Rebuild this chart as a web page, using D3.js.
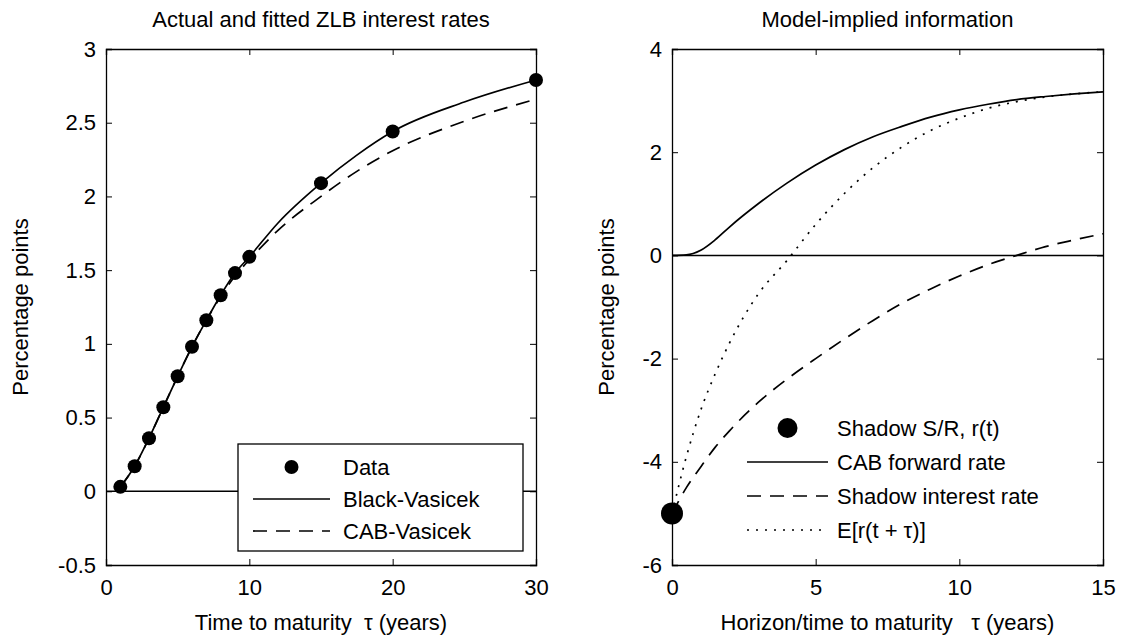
<!DOCTYPE html>
<html><head><meta charset="utf-8">
<script src="https://cdn.jsdelivr.net/npm/d3@7"></script>
<style>
body{margin:0;background:#fff;font-family:"Liberation Sans",Arial,sans-serif;}
text{font-family:"Liberation Sans",Arial,sans-serif;fill:#000;}
</style></head><body>
<div id="chart"></div>
<script>
// left panel
const dataTau = [1,2,3,4,5,6,7,8,9,10,15,20,30];
const dataRate = [0.03,0.17,0.36,0.57,0.78,0.98,1.16,1.33,1.48,1.59,2.09,2.44,2.79];
const blackTau = [1,2,3,4,5,6,7,8,9,10,12,15,17.5,20,25,30];
const blackRate = [0.03,0.17,0.36,0.57,0.78,0.98,1.16,1.33,1.48,1.59,1.82,2.09,2.28,2.44,2.64,2.79];
const cabTau = [1,2,3,4,5,6,7,8,9,10,12,15,17.5,20,25,30];
const cabRate = [0.03,0.17,0.36,0.57,0.78,0.98,1.16,1.32,1.46,1.57,1.77,2.0,2.17,2.31,2.51,2.66];
// right panel
const horizon = [0,0.5,1,1.5,2,3,4,5,6,7,8,9,10,11,12,13,14,15];
const cabFwd = [0,0.01,0.1,0.3,0.55,1.0,1.4,1.75,2.05,2.3,2.5,2.68,2.82,2.93,3.02,3.08,3.13,3.17];
const shadowRate = [-5,-4.5,-4.1,-3.72,-3.4,-2.85,-2.4,-2.0,-1.62,-1.26,-0.93,-0.65,-0.4,-0.18,0.0,0.17,0.3,0.42];
const expRate = [-5,-3.9,-3.0,-2.3,-1.7,-0.75,-0.1,0.6,1.2,1.7,2.1,2.42,2.66,2.85,2.98,3.07,3.13,3.17];
const leftYTicks = [-0.5,0,0.5,1,1.5,2,2.5,3];
const leftXTicks = [0,10,20,30];
const rightYTicks = [-6,-4,-2,0,2,4];
const rightXTicks = [0,5,10,15];

const W = 1122, H = 635;
const svg = d3.select("#chart").append("svg").attr("width", W).attr("height", H);
const plotTop = 49, plotBottom = 565;
const FS = 22;

function panel(x0, x1, xDom, yDom, xTicks, yTicks, title, xlabel, ylabelX) {
  const x = d3.scaleLinear().domain(xDom).range([x0, x1]);
  const y = d3.scaleLinear().domain(yDom).range([plotBottom, plotTop]);
  const g = svg.append("g");
  const fmt = d => String(d);
  g.append("g").attr("transform", `translate(0,${plotBottom})`)
    .call(d3.axisBottom(x).tickValues(xTicks).tickSize(-6).tickPadding(14).tickFormat(fmt));
  g.append("g").attr("transform", `translate(0,${plotTop})`)
    .call(d3.axisTop(x).tickValues(xTicks).tickSize(-6).tickFormat(""));
  g.append("g").attr("transform", `translate(${x0},0)`)
    .call(d3.axisLeft(y).tickValues(yTicks).tickSize(-6).tickPadding(10).tickFormat(fmt));
  g.append("g").attr("transform", `translate(${x1},0)`)
    .call(d3.axisRight(y).tickValues(yTicks).tickSize(-6).tickFormat(""));
  g.selectAll(".domain").attr("stroke", "#000").attr("stroke-width", 1.3);
  g.selectAll(".tick line").attr("stroke", "#000");
  g.selectAll(".tick text").attr("font-size", FS).attr("fill", "#000")
    .attr("font-family", "Liberation Sans, Arial, sans-serif");
  g.append("text").attr("x", (x0 + x1) / 2).attr("y", 27).attr("text-anchor", "middle")
    .attr("font-size", FS).text(title);
  g.append("text").attr("x", (x0 + x1) / 2).attr("y", 630).attr("text-anchor", "middle")
    .attr("font-size", FS).html(xlabel);
  g.append("text").attr("transform", `translate(${ylabelX},${(plotTop + plotBottom) / 2}) rotate(-90)`)
    .attr("text-anchor", "middle").attr("font-size", FS).text("Percentage points");
  // zero line
  g.append("line").attr("x1", x0).attr("x2", x1).attr("y1", y(0)).attr("y2", y(0))
    .attr("stroke", "#000").attr("stroke-width", 1.5);
  return {x, y, g};
}

const L = panel(106, 536, [0, 30], [-0.5, 3], leftXTicks, leftYTicks,
  "Actual and fitted ZLB interest rates", "Time to maturity &#160;τ (years)", 28);
const R = panel(672, 1103, [0, 15], [-6, 4], rightXTicks, rightYTicks,
  "Model-implied information", "Horizon/time to maturity &#160;&#160;τ (years)", 614);

function curve(P, xs, ys, dash) {
  const line = d3.line().x((d, i) => P.x(xs[i])).y(d => P.y(d)).curve(d3.curveMonotoneX);
  P.g.append("path").attr("d", line(ys)).attr("fill", "none").attr("stroke", "#000")
    .attr("stroke-width", 1.7).attr("stroke-dasharray", dash);
}
curve(L, cabTau, cabRate, "14,9");
curve(L, blackTau, blackRate, null);
L.g.selectAll("circle.pt").data(dataRate).enter().append("circle")
  .attr("cx", (d, i) => L.x(dataTau[i])).attr("cy", d => L.y(d)).attr("r", 7).attr("fill", "#000");

curve(R, horizon, expRate, "2,7");
curve(R, horizon, shadowRate, "14,9");
curve(R, horizon, cabFwd, null);
R.g.append("circle").attr("cx", R.x(0)).attr("cy", R.y(-5)).attr("r", 11).attr("fill", "#000");

// legends
function legend(P, box, x0, x1, tx, ys, items, r) {
  if (box) P.g.append("rect").attr("x", box[0]).attr("y", box[1]).attr("width", box[2]).attr("height", box[3])
    .attr("fill", "#fff").attr("stroke", "#000").attr("stroke-width", 1.3);
  items.forEach((it, i) => {
    const yy = ys[i];
    if (it.type === "dot") P.g.append("circle").attr("cx", (x0 + x1) / 2).attr("cy", yy).attr("r", r).attr("fill", "#000");
    else P.g.append("line").attr("x1", x0).attr("x2", x1).attr("y1", yy).attr("y2", yy)
      .attr("stroke", "#000").attr("stroke-width", 1.7).attr("stroke-dasharray", it.dash);
    P.g.append("text").attr("x", tx).attr("y", yy).attr("dy", "0.35em").attr("font-size", FS).text(it.label);
  });
}
legend(L, [238, 444, 285, 107], 253, 330, 343, [467, 499, 531], [
  {type: "dot", label: "Data"}, {type: "line", label: "Black-Vasicek"}, {type: "line", dash: "14,9", label: "CAB-Vasicek"}], 7);
legend(R, null, 747, 828, 837, [428, 462, 496, 530], [
  {type: "dot", label: "Shadow S/R, r(t)"}, {type: "line", label: "CAB forward rate"},
  {type: "line", dash: "14,9", label: "Shadow interest rate"}, {type: "line", dash: "2,7", label: "E[r(t + τ)]"}], 10);
</script></body></html>
